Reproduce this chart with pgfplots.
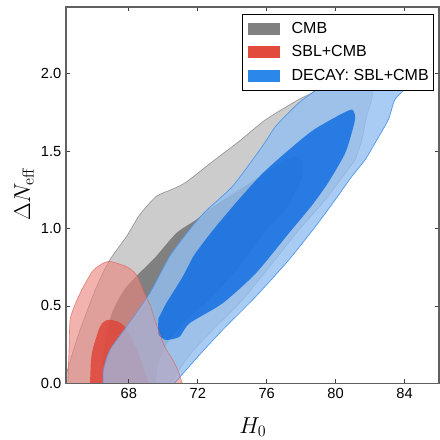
\documentclass[border=0pt]{standalone}
\usepackage[no-math]{fontspec}
\setmainfont{Liberation Sans}
\usepackage{pgfplots}
\pgfplotsset{compat=1.18}
\definecolor{gOut}{RGB}{204,204,204}
\definecolor{gIn}{RGB}{128,128,128}
\definecolor{gLine}{RGB}{150,150,150}
\definecolor{rOut}{RGB}{235,135,127}
\definecolor{rLine}{RGB}{225,100,90}
\definecolor{rIn}{RGB}{221,53,40}
\definecolor{bOut}{RGB}{146,191,241}
\definecolor{bLine}{RGB}{80,150,235}
\definecolor{bIn}{RGB}{0,100,225}
\definecolor{legG}{RGB}{128,128,128}
\definecolor{legR}{RGB}{226,74,59}
\definecolor{legB}{RGB}{43,136,234}
\pgfplotstableread{
x y
64.45 -0.02
64.52 0.2
64.59 0.41
64.88 0.51
65.36 0.625
65.94 0.73
66.51 0.776
66.90 0.787
67.86 0.754
68.44 0.70
68.9 0.58
69.25 0.50
69.5 0.41
69.78 0.323
70.07 0.237
70.55 0.151
70.84 0.086
71.1 0.0
71.15 -0.02
}\redouter
\begin{document}
\begin{tikzpicture}
\begin{axis}[
  scale only axis,
  width=279.75pt, height=282.2pt,
  xmin=64.35, xmax=86, ymin=0, ymax=2.43,
  xtick={68,72,76,80,84}, xticklabels={68,72,76,80,84},
  ytick={0,0.5,1.0,1.5,2.0}, yticklabels={0.0,0.5,1.0,1.5,2.0},
  tick label style={font=\fontsize{11}{13}\selectfont},
  tick align=inside, tick pos=both,
  major tick length=3pt,
  tick style={color=black!75, line width=0.6pt},
  axis line style={color=black!62, line width=1pt},
  axis on top=true,
  xlabel={$H_0$}, ylabel={$\Delta N_{\rm eff}$},
  label style={font=\fontsize{18}{20}\selectfont},
  xlabel style={at={(axis description cs:0.501,-0.116)}, anchor=center},
  ylabel style={at={(axis description cs:-0.1126,0.503)}, anchor=center},
  legend image code/.code={\fill[#1] (0pt,-4.5pt) rectangle (24pt,4.5pt);},
  legend style={at={(0.987,0.981)}, anchor=north east, draw=black, line width=0.6pt,
    fill=white, font=\fontsize{12}{14}\selectfont, inner xsep=3.75pt, inner ysep=6pt,
    nodes={inner sep=0pt}, column sep=9pt, row sep=7.5pt, cells={anchor=west}},
]
\addlegendimage{fill=legG, draw=none}
\addlegendimage{fill=legR, draw=none}
\addlegendimage{fill=legB, draw=none}
% CMB outer
\addplot[forget plot, smooth, tension=0.4, fill=gOut, draw=gLine, line width=0.5pt] coordinates {
(64.2,-0.02) (64.49,0.107) (65.17,0.345) (66.13,0.625) (66.90,0.798) (67.86,0.948) (68.63,1.089)
(69.59,1.207) (70.55,1.255) (71.32,1.299) (72.86,1.433) (74.40,1.563) (75.94,1.703) (77.86,1.833)
(78.63,1.876) (79.59,1.962) (80.8,2.06) (81.8,2.14) (82.4,2.12) (82.5,2.0) (82.19,1.908)
(82.09,1.833) (81.80,1.725) (81.52,1.574) (81.13,1.444) (80.56,1.358) (79.4,1.186)
(77.86,0.991) (76.32,0.776) (74.59,0.539) (72.86,0.345) (71.52,0.183) (70.26,-0.02)
} -- cycle;
% CMB inner
\addplot[forget plot, smooth, tension=0.4, fill=gIn, draw=none] coordinates {
(66.4,-0.02) (66.6,0.25) (67.0,0.45) (67.7,0.60) (68.5,0.70) (69.5,0.81) (70.75,0.970)
(71.9,1.056) (72.6,1.12) (74.4,1.25) (76.5,1.40) (77.6,1.466) (78.1,1.43) (78.05,1.33)
(77.6,1.22) (77.0,1.11) (75.9,0.98) (74.40,0.754) (72.67,0.539) (71.52,0.431) (70.36,0.28)
(69.78,0.151) (69.5,-0.02)
} -- cycle;
% SBL+CMB outer (first pass)
\addplot[forget plot, smooth, tension=0.4, fill=rOut, fill opacity=0.55, draw=none] table {\redouter} -- cycle;
% SBL+CMB inner
\addplot[forget plot, smooth, tension=0.4, fill=rIn, fill opacity=0.85, draw=none] coordinates {
(65.74,-0.02) (65.80,0.15) (65.94,0.237) (66.32,0.366) (66.61,0.403) (66.90,0.41) (67.38,0.398)
(67.76,0.366) (68.34,0.248) (68.80,0.118) (69.21,-0.02)
} -- cycle;
% DECAY outer
\addplot[forget plot, smooth, tension=0.4, fill=bOut, fill opacity=0.8, draw=bLine, line width=0.5pt] coordinates {
(66.51,-0.02) (66.52,0.086) (66.90,0.215) (67.86,0.366) (69.21,0.582) (70.36,0.819) (71.52,0.992)
(72.48,1.115) (74.01,1.272) (75.74,1.530) (76.52,1.660) (77.86,1.811) (79.02,1.908) (80.3,2.05)
(81.5,2.2) (82.6,2.3) (83.6,2.33) (84.6,2.25) (84.8,2.1) (84.11,1.915) (83.44,1.833) (83.06,1.703)
(82.29,1.552) (81.71,1.444) (80.9,1.33) (79.98,1.186) (78.83,1.013) (77.29,0.798) (75.36,0.560)
(73.44,0.345) (72.09,0.183) (70.48,-0.02)
} -- cycle;
% DECAY inner
\addplot[forget plot, smooth, tension=0.4, fill=bIn, fill opacity=0.75, draw=none] coordinates {
(69.69,0.36) (69.75,0.31) (70.17,0.28) (70.94,0.301) (71.52,0.388) (73.44,0.517) (75.37,0.711)
(77.29,0.970) (78.63,1.15) (79.59,1.30) (80.56,1.488) (81.04,1.660) (81.13,1.725) (80.94,1.768)
(80.17,1.73) (78.63,1.63) (77.10,1.49) (75.75,1.355) (74.40,1.19) (72.96,1.0) (71.80,0.830)
(71.13,0.690) (70.17,0.517) (69.72,0.42)
} -- cycle;
% SBL+CMB outer (tint and edge on top)
\addplot[forget plot, smooth, tension=0.4, fill=rOut, fill opacity=0.2, draw=rLine, draw opacity=0.7, line width=0.5pt] table {\redouter} -- cycle;
\legend{CMB, SBL+CMB, DECAY: SBL+CMB}
\end{axis}
\pgfresetboundingbox
\path[use as bounding box] (-49.5pt,-42.5pt) rectangle (280.5pt,287.5pt);
\end{tikzpicture}
\end{document}
